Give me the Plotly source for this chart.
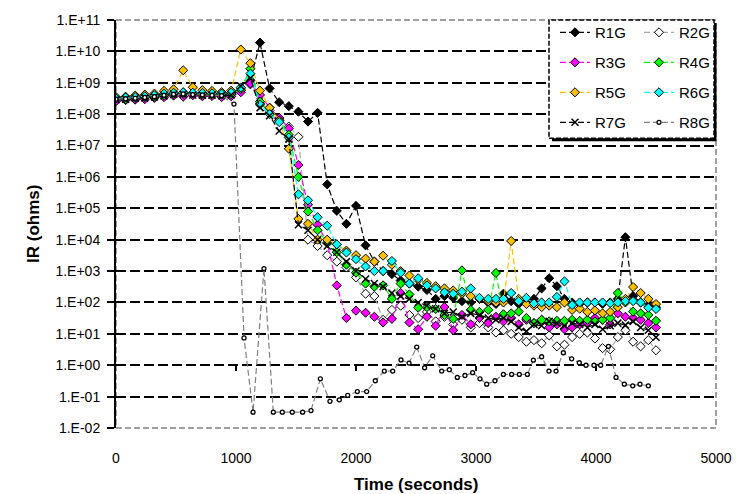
import plotly.graph_objects as go

# ---------------- data ----------------
t_main = [0, 80, 160, 240, 320, 400, 480, 560, 640, 720,
          800, 880, 960, 1040, 1120, 1200, 1280, 1360, 1440, 1520,
          1600, 1680, 1760, 1840, 1920, 2000, 2080, 2153, 2226, 2299,
          2372, 2445, 2518, 2591, 2664, 2737, 2810, 2883, 2956, 3029,
          3102, 3166, 3229, 3293, 3356, 3420, 3483, 3547, 3610, 3674,
          3737, 3801, 3864, 3928, 3991, 4055, 4118, 4182, 4245, 4309,
          4372, 4436, 4500]

r1g = [3.0e8, 3.3e8, 3.1e8, 3.6e8, 3.7e8, 4.3e8, 4.4e8, 4.9e8, 4.3e8, 4.6e8,
       4.2e8, 4.4e8, 4.5e8, 5.6e8, 1.2e9, 1.9e10, 6.6e8, 2.4e8, 1.8e8, 1.2e8,
       5.8e7, 1.1e8, 5.8e5, 8.3e4, 3.2e4, 1.2e5, 6.6e3, 2.0e3, 1.0e3, 8.0e2,
       5.0e2, 4.0e2, 3.2e2, 2.5e2, 1.3e2, 1.6e2, 1.4e2, 1.1e2, 1.0e2, 1.3e2,
       1.0e2, 9.0e1, 1.9e2, 1.1e2, 9.0e1, 1.1e2, 1.3e2, 2.8e2, 5.9e2, 3.3e2,
       1.3e2, 1.0e2, 9.0e1, 1.0e2, 1.0e2, 9.0e1, 1.0e2, 1.3e2, 1.2e4, 1.6e2,
       1.0e2, 8.0e1, 7.0e1]

r2g = [3.1e8, 3.2e8, 3.4e8, 3.4e8, 3.9e8, 4.0e8, 4.7e8, 4.6e8, 4.5e8, 4.3e8,
       4.5e8, 4.1e8, 4.7e8, 5.6e8, 8.9e8, 2.2e8, 1.3e8, 7.1e7, 4.0e7, 1.9e7,
       1.0e4, 6.3e3, 3.2e3, 2.0e3, 1.3e3, 6.3e2, 1.9e2, 1.6e2, 2.8e1, 5.8e1,
       7.9e1, 4.0e1, 3.2e1, 5.0e1, 2.5e1, 3.5e1, 2.0e1, 2.8e1, 1.6e1, 2.2e1,
       1.6e1, 1.1e1, 1.3e1, 1.0e1, 7.9, 5.6, 6.3, 5.0, 8.9, 4.0,
       4.5, 7.9, 1.0e1, 1.1e1, 7.1, 3.5, 3.2, 7.9, 1.3e1, 5.6,
       4.0, 6.3, 3.0]

r3g = [2.6e8, 2.8e8, 2.9e8, 3.0e8, 3.3e8, 3.5e8, 3.9e8, 3.6e8, 4.0e8, 3.7e8,
       3.8e8, 3.5e8, 3.7e8, 5.0e8, 9.5e8, 4.1e8, 1.6e8, 7.6e7, 3.5e7, 2.4e6,
       1.3e5, 3.0e4, 7.9e3, 3.5e2, 3.2e1, 5.5e1, 4.7e1, 3.5e1, 2.3e1, 3.0e1,
       2.0e2, 2.3e1, 1.4e1, 3.5e1, 1.8e1, 7.2e1, 1.3e1, 4.0e1, 2.0e1, 3.2e1,
       2.2e1, 3.5e1, 2.5e1, 3.2e1, 2.0e1, 2.8e1, 2.2e1, 2.8e1, 1.6e1, 2.0e1,
       1.4e1, 1.6e1, 2.0e1, 2.2e1, 3.2e1, 2.8e1, 2.0e1, 4.5e1, 3.5e1, 3.2e1,
       2.8e1, 2.2e1, 1.6e1]

r4g = [3.2e8, 3.0e8, 3.3e8, 3.5e8, 3.6e8, 4.0e8, 4.4e8, 4.5e8, 4.6e8, 4.2e8,
       4.3e8, 4.2e8, 4.3e8, 6.3e8, 2.8e9, 2.5e8, 1.1e8, 6.3e7, 2.2e7, 1.0e6,
       7.9e4, 2.0e4, 7.9e3, 4.0e3, 1.6e3, 8.9e2, 4.0e2, 3.2e2, 3.5e2, 1.3e2,
       4.0e2, 1.8e2, 6.8e1, 7.1e1, 6.2e1, 4.0e1, 3.0e1, 1.05e3, 5.8e1, 5.0e1,
       5.8e1, 8.7e2, 4.2e1, 4.5e1, 5.1e1, 3.2e1, 2.2e1, 2.8e1, 2.5e1, 2.6e1,
       2.6e1, 2.8e1, 2.6e1, 2.8e1, 2.5e1, 2.8e1, 3.2e1, 2.0e2, 1.0e2, 5.1e1,
       4.5e1, 4.0e1, 2.6e1]

r5g = [3.5e8, 3.6e8, 3.9e8, 4.2e8, 4.5e8, 5.5e8, 6.2e8, 2.5e9, 7.2e8, 5.8e8,
       5.5e8, 5.0e8, 5.6e8, 1.15e10, 4.2e9, 5.6e8, 1.6e8, 6.3e7, 7.9e6, 4.6e4,
       3.2e4, 1.0e4, 1.0e4, 7.1e3, 4.5e3, 3.2e3, 2.5e3, 2.0e3, 3.1e3, 1.6e3,
       1.0e3, 7.2e2, 5.2e2, 4.2e2, 3.3e2, 2.8e2, 2.4e2, 1.9e2, 1.6e2, 1.3e2,
       1.1e2, 1.0e2, 1.0e2, 9.1e3, 1.3e2, 8.9e1, 7.9e1, 7.1e1, 7.9e1, 7.1e1,
       1.0e2, 5.8e1, 6.3e1, 5.0e1, 5.6e1, 4.5e1, 5.0e1, 7.1e1, 1.3e2, 3.1e2,
       2.0e2, 1.3e2, 8.9e1]

r6g = [3.2e8, 3.4e8, 3.5e8, 3.7e8, 4.0e8, 4.5e8, 4.8e8, 5.0e8, 4.8e8, 4.7e8,
       4.6e8, 4.5e8, 4.9e8, 7.1e8, 1.95e9, 2.0e8, 1.0e8, 5.6e7, 1.8e7, 2.8e5,
       1.8e5, 5.2e4, 2.8e4, 7.1e3, 3.9e3, 2.4e3, 1.4e3, 1.0e3, 1.0e3, 2.1e3,
       8.9e2, 4.0e2, 5.9e2, 3.5e2, 2.8e2, 2.1e2, 1.9e2, 2.2e2, 2.8e2, 1.4e2,
       1.3e2, 1.3e2, 1.3e2, 2.0e2, 1.1e2, 1.4e2, 9.3e1, 1.0e2, 1.0e2, 1.5e2,
       4.7e2, 8.3e1, 1.0e2, 1.0e2, 1.0e2, 1.0e2, 9.5e1, 1.0e2, 1.1e2, 1.1e2,
       1.0e2, 6.8e1, 6.2e1]

r7g = [2.9e8, 3.0e8, 3.2e8, 3.3e8, 3.5e8, 3.8e8, 4.2e8, 4.3e8, 4.1e8, 4.0e8,
       4.0e8, 3.9e8, 4.1e8, 7.9e8, 1.4e9, 1.6e8, 8.9e7, 2.9e7, 1.6e7, 3.0e4,
       2.0e4, 1.0e4, 6.3e3, 4.0e3, 2.0e3, 1.0e3, 5.6e2, 4.0e2, 3.2e2, 2.0e2,
       1.6e2, 1.3e2, 1.0e2, 7.9e1, 6.3e1, 4.5e1, 5.0e1, 3.5e1, 4.5e1, 4.0e1,
       3.2e1, 2.8e1, 3.2e1, 2.5e1, 1.6e1, 1.2e1, 2.0e1, 1.8e1, 2.5e1, 2.2e1,
       1.8e1, 2.2e1, 2.0e1, 1.6e1, 2.0e1, 1.4e1, 1.8e1, 2.2e1, 1.9e1, 2.5e1,
       1.6e1, 1.3e1, 7.8]

t_r8g = [0, 80, 160, 240, 320, 400, 480, 560, 640, 720,
         800, 880, 983, 1067, 1142, 1233, 1311, 1386, 1469, 1555,
         1625, 1703, 1783, 1861, 1931, 2011, 2089, 2161, 2236, 2306,
         2375, 2442, 2506, 2572, 2639, 2714, 2778, 2844, 2908, 2972,
         3033, 3089, 3158, 3228, 3297, 3361, 3428, 3478, 3547, 3608,
         3667, 3728, 3797, 3861, 3917, 3983, 4039, 4103, 4167, 4236,
         4306, 4367, 4436]

r8g = [3.0e8, 3.1e8, 3.2e8, 3.4e8, 3.6e8, 4.0e8, 4.3e8, 4.4e8, 4.2e8, 4.1e8,
       4.0e8, 3.9e8, 2.1e8, 7.4, 0.032, 1.2e3, 0.032, 0.032, 0.032, 0.032,
       0.036, 0.37, 0.071, 0.079, 0.11, 0.145, 0.145, 0.32, 0.65, 0.65,
       1.48, 1.17, 3.8, 0.83, 2.0, 0.65, 0.72, 0.41, 0.47, 0.58,
       0.37, 0.25, 0.32, 0.51, 0.51, 0.51, 0.51, 1.45, 1.86, 0.65,
       0.65, 2.5, 1.6, 1.2, 1.0, 1.0, 1.0, 4.0, 0.41, 0.25,
       0.22, 0.25, 0.22]

series_names = ["R1G", "R2G", "R3G", "R4G", "R5G", "R6G", "R7G", "R8G"]

y_tick_vals = [1e-2, 1e-1, 1e0, 1e1, 1e2, 1e3, 1e4, 1e5, 1e6, 1e7, 1e8, 1e9, 1e10, 1e11]
y_tick_text = ["1.E-02", "1.E-01", "1.E+00", "1.E+01", "1.E+02", "1.E+03", "1.E+04",
               "1.E+05", "1.E+06", "1.E+07", "1.E+08", "1.E+09", "1.E+10", "1.E+11"]
y_grid_vals = y_tick_vals[1:-1]
x_tick_vals = [0, 1000, 2000, 3000, 4000, 5000]
x_axis_marks = [1000, 2000, 3000, 4000]

# ---------------- styles ----------------
FONT = "Liberation Sans, Arial, sans-serif"
DASH = "6px,3px"

styles = {
    "R1G": dict(line="#000000", symbol="diamond", fill="#000000", mline="#000000", size=7, mw=1, legend="legend"),
    "R2G": dict(line="#A6A6A6", symbol="diamond", fill="#FFFFFF", mline="#000000", size=7, mw=1, legend="legend2"),
    "R3G": dict(line="#FF00FF", symbol="diamond", fill="#FF00FF", mline="#000000", size=7, mw=1, legend="legend"),
    "R4G": dict(line="#00FF00", symbol="diamond", fill="#00FF00", mline="#000000", size=7, mw=1, legend="legend2"),
    "R5G": dict(line="#FFC000", symbol="diamond", fill="#FFC000", mline="#000000", size=7, mw=1, legend="legend"),
    "R6G": dict(line="#00FFFF", symbol="diamond", fill="#00FFFF", mline="#000000", size=7, mw=1, legend="legend2"),
    "R7G": dict(line="#000000", symbol="x-thin-open", fill="#000000", mline="#000000", size=7, mw=1.5, legend="legend"),
    "R8G": dict(line="#808080", symbol="circle", fill="#FFFFFF", mline="#000000", size=4, mw=1.3, legend="legend2"),
}

data = {
    "R1G": (t_main, r1g), "R2G": (t_main, r2g), "R3G": (t_main, r3g), "R4G": (t_main, r4g),
    "R5G": (t_main, r5g), "R6G": (t_main, r6g), "R7G": (t_main, r7g), "R8G": (t_r8g, r8g),
}

fig = go.Figure()
for name in series_names:
    s = styles[name]
    xs, ys = data[name]
    fig.add_trace(go.Scatter(
        x=xs, y=ys, name=name, mode="lines+markers",
        line=dict(color=s["line"], width=1.2, dash=DASH),
        marker=dict(symbol=s["symbol"], size=s["size"], color=s["fill"],
                    line=dict(color=s["mline"], width=s["mw"])),
        legend=s["legend"], legendgroup=name,
        xaxis="x", yaxis="y",
    ))

# helper traces so the overlay axes are drawn
fig.add_trace(go.Scatter(x=[], y=[], xaxis="x2", yaxis="y", showlegend=False, hoverinfo="skip"))
fig.add_trace(go.Scatter(x=[], y=[], xaxis="x", yaxis="y2", showlegend=False, hoverinfo="skip"))

tickfont = dict(family=FONT, size=14, color="#000000")

fig.update_layout(
    width=744, height=494,
    margin=dict(l=116, r=28, t=14, b=66),
    paper_bgcolor="#FFFFFF", plot_bgcolor="#FFFFFF",
    font=dict(family=FONT, size=14, color="#000000"),
    xaxis=dict(
        range=[0, 5000], tickvals=x_tick_vals, ticks="", showgrid=False,
        zeroline=False, showline=False, tickfont=tickfont, ticklabelstandoff=20,
    ),
    xaxis2=dict(
        overlaying="x", matches="x", anchor="free", position=2 / 13,
        tickvals=x_axis_marks, ticks="outside", ticklen=5, tickwidth=1.5,
        tickcolor="#000000", showticklabels=False, showgrid=False,
        zeroline=False, showline=False,
    ),
    yaxis=dict(
        type="log", range=[-2, 11], tickvals=y_tick_vals, ticktext=y_tick_text,
        ticks="outside", ticklen=7, tickwidth=1.5, tickcolor="#000000",
        showgrid=False, zeroline=False, showline=True, linecolor="#000000",
        linewidth=2, tickfont=tickfont, ticklabelstandoff=4,
    ),
    yaxis2=dict(
        type="log", overlaying="y", matches="y", anchor="x", side="left",
        range=[-2, 11], tickvals=y_grid_vals, showticklabels=False, ticks="",
        showgrid=True, gridcolor="#000000", gridwidth=1.6, griddash="10px,4px",
        zeroline=False, showline=False,
    ),
    legend=dict(
        x=(555 - 116) / 600, y=(428 - 10) / 414, xanchor="left", yanchor="top",
        bgcolor="rgba(0,0,0,0)", borderwidth=0, tracegroupgap=7.5,
        font=dict(family=FONT, size=15, color="#000000"),
    ),
    legend2=dict(
        x=(639 - 116) / 600, y=(428 - 10) / 414, xanchor="left", yanchor="top",
        bgcolor="rgba(0,0,0,0)", borderwidth=0, tracegroupgap=7.5,
        font=dict(family=FONT, size=15, color="#000000"),
    ),
    shapes=[
        # plot-area border (gray dashed)
        dict(type="rect", xref="paper", yref="paper", x0=0, x1=1, y0=0, y1=1,
             line=dict(color="#808080", width=1.5, dash="6px,3px"), layer="below"),
        # legend shadow
        dict(type="rect", xref="paper", yref="paper",
             x0=(552 - 116) / 600, x1=(716.5 - 116) / 600,
             y0=(428 - 137) / 414, y1=(428 - 17) / 414,
             fillcolor="#000000", line=dict(width=0), layer="above"),
        # legend box
        dict(type="rect", xref="paper", yref="paper",
             x0=(549 - 116) / 600, x1=(714 - 116) / 600,
             y0=(428 - 134) / 414, y1=1.0,
             fillcolor="#FFFFFF", line=dict(color="#000000", width=1.5, dash="5px,2px"),
             layer="above"),
    ],
    annotations=[
        dict(text="<b>Time (seconds)</b>", xref="paper", yref="paper",
             x=0.5, y=(428 - 485) / 414, xanchor="center", yanchor="middle",
             showarrow=False, font=dict(family=FONT, size=17, color="#000000")),
        dict(text="<b>IR (ohms)</b>", xref="paper", yref="paper",
             x=(33 - 116) / 600, y=0.5, xanchor="center", yanchor="middle",
             textangle=-90, showarrow=False,
             font=dict(family=FONT, size=17, color="#000000")),
    ],
    showlegend=True,
)

fig.write_html("out.html")
